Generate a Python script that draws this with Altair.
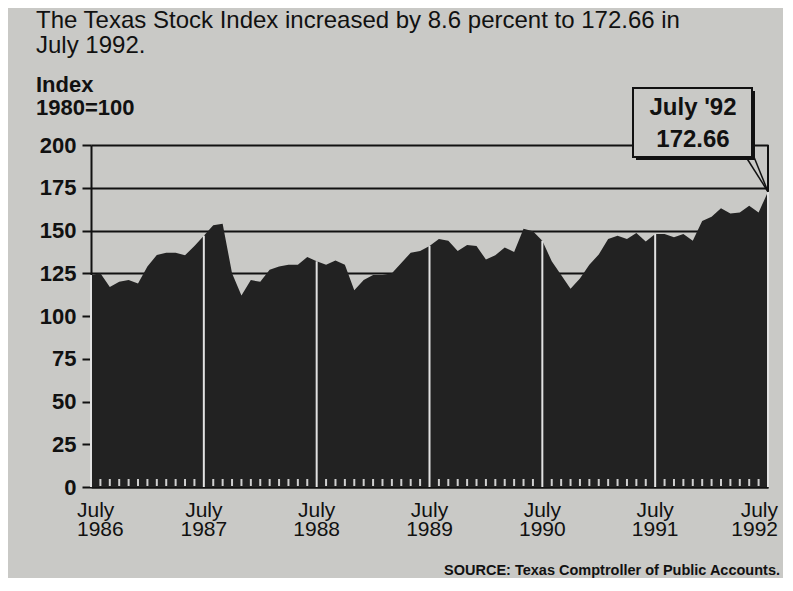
import altair as alt
import pandas as pd

# Monthly Texas Stock Index, July 1986 .. July 1992
values = [124, 125, 117, 120, 121, 119, 129, 135.7, 137, 137, 135.5, 141,
          147, 153, 154, 125, 112, 121, 120, 127, 129, 130, 130, 134.5,
          132, 130, 132.5, 130, 115, 121, 124, 124, 125, 131, 137, 138,
          141, 145, 144, 138, 141.5, 141, 133, 135.5, 140, 137.5, 151, 149.5,
          144, 132, 124, 116, 122, 130, 136, 145, 147, 145, 148.5, 143.5,
          148, 148, 146, 148, 144, 155.5, 158, 163, 160, 160.5, 164.5, 160.5,
          172.66]
month_index = list(range(len(values)))
years = ["1986", "1987", "1988", "1989", "1990", "1991", "1992"]
july_index = [0, 12, 24, 36, 48, 60, 72]
y_ticks = [0, 25, 50, 75, 100, 125, 150, 175, 200]

title_lines = ["The Texas Stock Index increased by 8.6 percent to 172.66 in", "July 1992."]
unit_lines = ["Index", "1980=100"]
callout_lines = ["July '92", "172.66"]
source_text = "SOURCE: Texas Comptroller of Public Accounts."

FONT = "Liberation Sans"
BG = "#c9c9c6"
INK = "#111111"
W, H = 677, 342

df = pd.DataFrame({"m": month_index, "v": values})
df_july = df[df["m"].isin(july_index)]
df_ticks = df[~df["m"].isin(july_index)]
df_last = df.tail(1)
df_one = pd.DataFrame({"k": [0]})

xs = alt.Scale(domain=[0, 72], nice=False, zero=False)
ys = alt.Scale(domain=[0, 200], nice=False)

frame = alt.Chart(df_one).mark_rule(color=INK, strokeWidth=2).encode(
    x=alt.datum(72, scale=xs), y=alt.datum(200, scale=ys), y2=alt.datum(0)
)

area = alt.Chart(df).mark_area(color="#222222", opacity=1, interpolate="linear").encode(
    x=alt.X("m:Q", scale=xs, axis=alt.Axis(title=None, labels=False, ticks=False, grid=False,
                                            domain=True, domainColor=INK, domainWidth=2)),
    y=alt.Y("v:Q", scale=ys, axis=alt.Axis(title=None, values=y_ticks, grid=True, gridColor=INK,
                                            gridWidth=2, gridOpacity=1, domainColor=INK, domainWidth=2,
                                            tickColor=INK, tickWidth=2, tickSize=9, labelPadding=6,
                                            labelFont=FONT, labelFontSize=22, labelFontWeight="bold",
                                            labelColor=INK)),
)

month_ticks = alt.Chart(df_ticks).mark_rule(color="#cfcfcf", strokeWidth=2).encode(
    x=alt.X("m:Q", scale=xs), y=alt.value(H - 8), y2=alt.value(H - 1)
)

july_lines = alt.Chart(df_july).mark_rule(color="#e2e2e2", strokeWidth=2).encode(
    x=alt.X("m:Q", scale=xs), y=alt.Y("v:Q", scale=ys), y2=alt.datum(0)
)

shadow = alt.Chart(df_one).mark_rect(color=INK).encode(
    x=alt.value(545), x2=alt.value(664), y=alt.value(-54), y2=alt.value(15)
)
box = alt.Chart(df_one).mark_rect(fill=BG, stroke=INK, strokeWidth=2).encode(
    x=alt.value(542), x2=alt.value(661), y=alt.value(-57), y2=alt.value(12)
)
pointer1 = alt.Chart(df_last).mark_rule(color=INK, strokeWidth=1.5).encode(
    x=alt.X("m:Q", scale=xs), y=alt.Y("v:Q", scale=ys), x2=alt.value(655), y2=alt.value(12)
)
pointer2 = alt.Chart(df_last).mark_rule(color=INK, strokeWidth=1.5).encode(
    x=alt.X("m:Q", scale=xs), y=alt.Y("v:Q", scale=ys), x2=alt.value(663), y2=alt.value(12)
)


def label(text, x, y, size, weight="normal", align="left"):
    return alt.Chart(df_one).mark_text(
        font=FONT, fontSize=size, fontWeight=weight, color=INK, align=align, baseline="alphabetic"
    ).encode(x=alt.value(x), y=alt.value(y), text=alt.value(text))


texts = [
    label(title_lines[0], -55, -117, 24),
    label(title_lines[1], -55, -92, 24),
    label(unit_lines[0], -55, -53, 22, "bold"),
    label(unit_lines[1], -55, -30, 22, "bold"),
    label(callout_lines[0], 602, -30, 24, "bold", "center"),
    label(callout_lines[1], 602, 2, 24, "bold", "center"),
    label(source_text, 689, 430, 14.5, "bold", "right"),
]

df_lab = pd.DataFrame({"m": july_index, "t": ["July\n" + y for y in years]})


def xlab(d, align, dx):
    return alt.Chart(d).mark_text(
        font=FONT, fontSize=21, color=INK, align=align, baseline="alphabetic",
        lineBreak="\n", lineHeight=19, dx=dx
    ).encode(x=alt.X("m:Q", scale=xs), y=alt.value(372), text="t:N")


xlabels = [
    xlab(df_lab.iloc[[0]], "left", -14),
    xlab(df_lab.iloc[1:6], "center", 0),
    xlab(df_lab.iloc[[6]], "right", 10),
]

chart = alt.layer(
    frame, area, month_ticks, july_lines, shadow, box, pointer1, pointer2, *texts, *xlabels
).properties(
    width=W, height=H,
    autosize=alt.AutoSizeParams(type="none"),
    padding={"left": 83, "top": 137, "right": 15, "bottom": 91},
    background=BG,
).configure_view(strokeWidth=0)

chart.save("out.html", embed_options={"renderer": "svg", "actions": False})
